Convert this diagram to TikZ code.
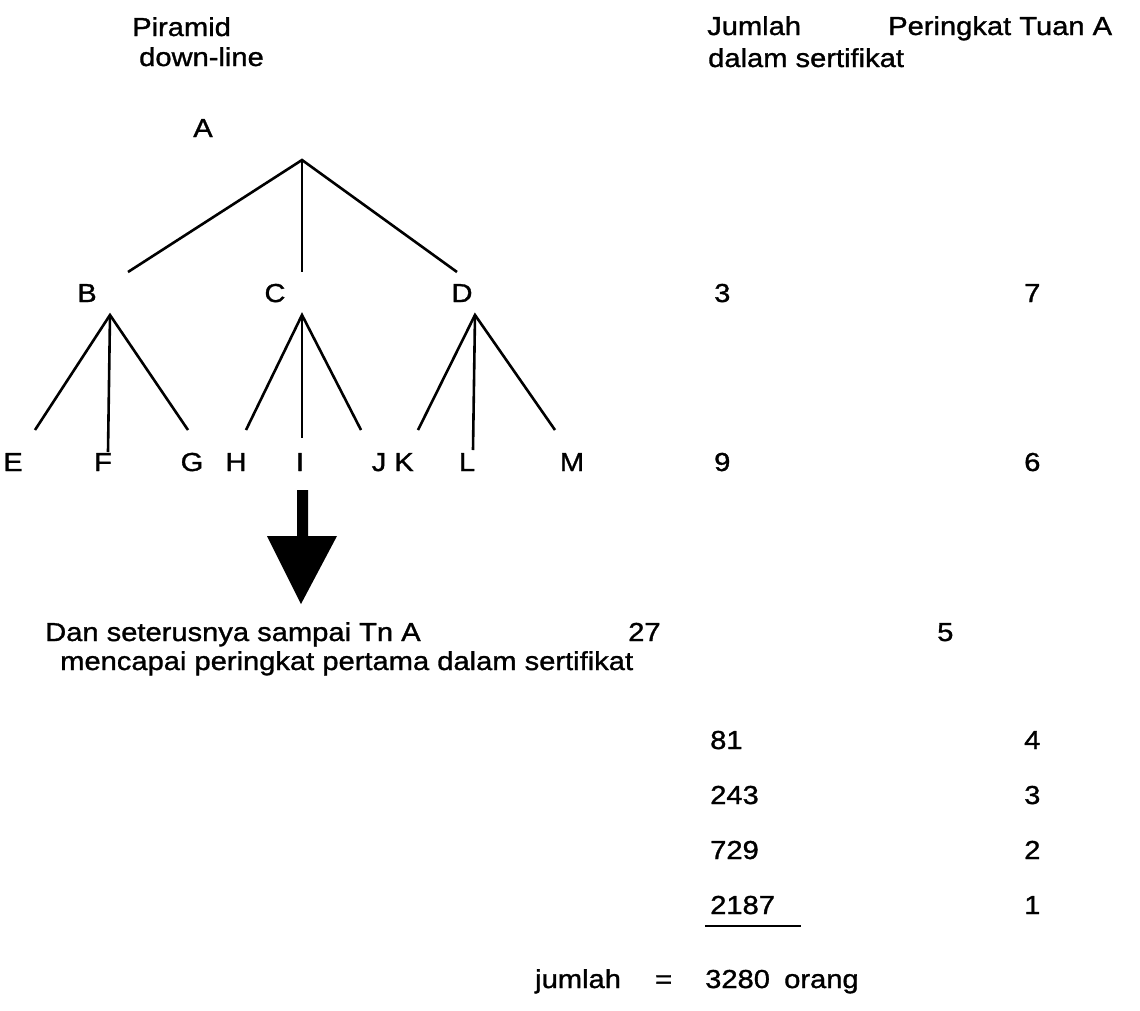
\documentclass[tikz,border=0pt]{standalone}
\usepackage{fontspec}
\setmainfont{Liberation Sans}
\newfontfamily\inkfont[FakeStretch=1.12,FakeBold=1.2]{Liberation Sans}
\begin{document}
\begin{tikzpicture}[x=1pt,y=-1pt,
  hdr/.style={inner sep=0pt,anchor=base west,font=\fontsize{26}{30}\inkfont},
  let/.style={inner sep=0pt,anchor=base,font=\fontsize{26}{30}\inkfont},
  num/.style={inner sep=0pt,anchor=base west,font=\fontsize{26}{30}\inkfont},
  note/.style={inner sep=0pt,anchor=base west,font=\fontsize{26}{30}\inkfont},
  branch/.style={line width=2.6pt}]
\useasboundingbox (0,0) rectangle (1140,1010);
% headers
\node[hdr] (h1) at (132,36) {Piramid};
\node[hdr] (h2) at (139,66) {down-line};
\node[hdr] (h3) at (707,35) {Jumlah};
\node[hdr] (h4) at (708,67) {dalam sertifikat};
\node[hdr] (h5) at (888,35) {Peringkat Tuan A};
% tree labels
\node[let] (A) at (203,137) {A};
\node[let] (B) at (87,302) {B};
\node[let] (C) at (275,302) {C};
\node[let] (D) at (462,302) {D};
\node[let] (E) at (13,471) {E};
\node[let] (F) at (103,471) {F};
\node[let] (G) at (192,471) {G};
\node[let] (H) at (236,471) {H};
\node[let] (I) at (300,471) {I};
\node[let] (J) at (379,471) {J};
\node[let] (K) at (404,471) {K};
\node[let] (L) at (467,471) {L};
\node[let] (M) at (572,471) {M};
% branch coordinates
\coordinate (aT) at (302,160);
\coordinate (bE) at (128,272);
\coordinate (cE) at (302,272);
\coordinate (dE) at (457,272);
\coordinate (bT) at (110,315);
\coordinate (cT) at (302,315);
\coordinate (dT) at (475,315);
\coordinate (eE) at (35,430);
\coordinate (fE) at (108,452);
\coordinate (gE) at (188,430);
\coordinate (hE) at (246,430);
\coordinate (iE) at (302,438);
\coordinate (jE) at (361,430);
\coordinate (kE) at (418,430);
\coordinate (lE) at (473,450);
\coordinate (mE) at (555,430);
\draw[branch] (bE) -- (aT) -- (dE);
\draw[branch] (aT) -- (cE);
\draw[branch] (eE) -- (bT) -- (gE);
\draw[branch] (bT) -- (fE);
\draw[branch] (hE) -- (cT) -- (jE);
\draw[branch] (cT) -- (iE);
\draw[branch] (kE) -- (dT) -- (mE);
\draw[branch] (dT) -- (lE);
% big arrow
\coordinate (arTop) at (302,490);
\coordinate (arTip) at (301,604);
\fill (297,490) -- (308,490) -- (308,536) -- (337,536) -- (arTip) -- (267,536) -- (297,536) -- cycle;
% notes
\node[note] (n1) at (45,641) {Dan seterusnya sampai Tn A};
\node[note] (n2) at (60,670) {mencapai peringkat pertama dalam sertifikat};
% column 1
\node[num] (c1a) at (714,302) {3};
\node[num] (c1b) at (714,471) {9};
\node[num] (c1c) at (628,641) {27};
\node[num] (c1d) at (710,749) {81};
\node[num] (c1e) at (710,804) {243};
\node[num] (c1f) at (710,859) {729};
\node[num] (c1g) at (710,914) {2187};
\draw[line width=1.5pt] (705,926) -- (801,926);
% column 2
\node[num] (c2a) at (1024,302) {7};
\node[num] (c2b) at (1024,471) {6};
\node[num] (c2c) at (937,641) {5};
\node[num] (c2d) at (1024,749) {4};
\node[num] (c2e) at (1024,804) {3};
\node[num] (c2f) at (1024,859) {2};
\node[num] (c2g) at (1024,914) {1};
% total
\node[num] (t1) at (535,988) {jumlah};
\node[num] (t2) at (655,988) {=};
\node[num] (t3) at (705,988) {3280};
\node[num] (t4) at (784,988) {orang};
\end{tikzpicture}
\end{document}
